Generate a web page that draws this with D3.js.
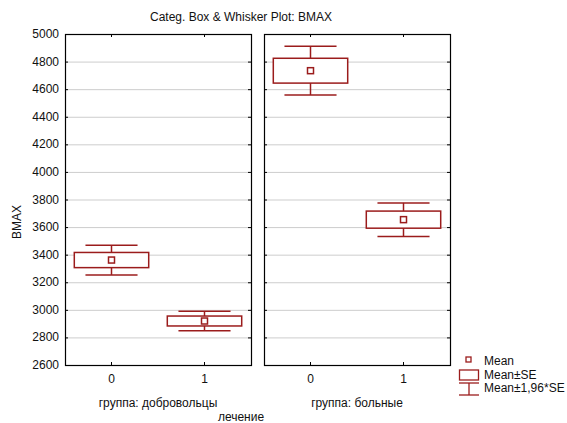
<!DOCTYPE html>
<html>
<head>
<meta charset="utf-8">
<script src="https://cdn.jsdelivr.net/npm/d3@7"></script>
<style>
  body { margin: 0; background: #fff; }
  text { font-family: "Liberation Sans", Arial, sans-serif; fill: #111; font-size: 12px; }
</style>
</head>
<body>
<div id="vis"></div>
<script>
// data
const groups = ['группа: добровольцы', 'группа: больные']
const categories = ['0', '1']
const means = [[3361, 2919], [4734, 3654]]
const se = [[55, 36], [90, 62]]
const ciFactor = 1.96
const yTicks = [2600, 2800, 3000, 3200, 3400, 3600, 3800, 4000, 4200, 4400, 4600, 4800, 5000]
const legendLabels = ['Mean', 'Mean±SE', 'Mean±1,96*SE']

;(function() {
  const svg_width = 567,
        svg_height = 423,
        red = '#9b1c1c',
        svg = d3.select('#vis').append('svg')

  svg.attr('width', svg_width).attr('height', svg_height)

  const top = 34, bottom = 365, panelW = 186
  const panelX = [65, 264]

  const y = d3.scaleLinear().domain([2600, 5000]).range([bottom, top])

  svg.append('text')
    .attr('x', 241).attr('y', 21)
    .attr('text-anchor', 'middle')
    .text('Categ. Box & Whisker Plot: BMAX')

  // y axis labels
  svg.append('g')
    .selectAll('text')
    .data(yTicks)
    .join('text')
    .attr('x', 59)
    .attr('y', d => y(d) + 4)
    .attr('text-anchor', 'end')
    .text(d => d)

  svg.append('text')
    .attr('transform', 'translate(21,222) rotate(-90)')
    .attr('text-anchor', 'middle')
    .text('BMAX')

  groups.forEach((g, gi) => {
    const x0 = panelX[gi]
    const x = d3.scaleBand().domain(categories).range([x0, x0 + panelW]).padding(0)
    const cx = c => x(c) + x.bandwidth() / 2
    const panel = svg.append('g').attr('class', 'panel' + gi)

    // grid
    panel.selectAll('line.grid')
      .data(yTicks.slice(1, -1))
      .join('line')
      .attr('class', 'grid')
      .attr('x1', x0).attr('x2', x0 + panelW)
      .attr('y1', d => y(d) + 0.5).attr('y2', d => y(d) + 0.5)
      .attr('stroke', '#cdcdcd')
      .attr('stroke-width', 1)

    // inner ticks on both sides
    panel.selectAll('line.lt')
      .data(yTicks)
      .join('line')
      .attr('x1', x0).attr('x2', x0 + 3)
      .attr('y1', d => y(d) + 0.5).attr('y2', d => y(d) + 0.5)
      .attr('stroke', '#000')
    panel.selectAll('line.rt')
      .data(yTicks)
      .join('line')
      .attr('x1', x0 + panelW - 3).attr('x2', x0 + panelW)
      .attr('y1', d => y(d) + 0.5).attr('y2', d => y(d) + 0.5)
      .attr('stroke', '#000')

    // category ticks, top and bottom
    categories.forEach(c => {
      panel.append('line')
        .attr('x1', cx(c)).attr('x2', cx(c))
        .attr('y1', top).attr('y2', top + 3)
        .attr('stroke', '#000')
      panel.append('line')
        .attr('x1', cx(c)).attr('x2', cx(c))
        .attr('y1', bottom).attr('y2', bottom - 3)
        .attr('stroke', '#000')
      panel.append('text')
        .attr('x', cx(c)).attr('y', 383)
        .attr('text-anchor', 'middle')
        .text(c)
    })

    panel.append('rect')
      .attr('x', x0 + 0.5).attr('y', top + 0.5)
      .attr('width', panelW).attr('height', bottom - top)
      .attr('fill', 'none')
      .attr('stroke', '#000')
      .attr('stroke-width', 1.2)

    panel.append('text')
      .attr('x', x0 + panelW / 2).attr('y', 407)
      .attr('text-anchor', 'middle')
      .text(g)

    // boxes
    const boxW = x.bandwidth() * 0.8, capW = x.bandwidth() * 0.56
    categories.forEach((c, ci) => {
      const m = means[gi][ci], s = se[gi][ci]
      const hi = m + ciFactor * s, lo = m - ciFactor * s
      const b = panel.append('g').attr('class', 'box')
      b.append('line')
        .attr('x1', cx(c)).attr('x2', cx(c))
        .attr('y1', y(hi)).attr('y2', y(lo))
        .attr('stroke', red).attr('stroke-width', 1.5)
      ;[hi, lo].forEach(v => {
        b.append('line')
          .attr('x1', cx(c) - capW / 2).attr('x2', cx(c) + capW / 2)
          .attr('y1', y(v)).attr('y2', y(v))
          .attr('stroke', red).attr('stroke-width', 1.5)
      })
      b.append('rect')
        .attr('x', cx(c) - boxW / 2).attr('y', y(m + s))
        .attr('width', boxW).attr('height', y(m - s) - y(m + s))
        .attr('fill', '#fff')
        .attr('stroke', red).attr('stroke-width', 1.5)
      b.append('rect')
        .attr('x', cx(c) - 3).attr('y', y(m) - 3)
        .attr('width', 6).attr('height', 6)
        .attr('fill', '#fff')
        .attr('stroke', red).attr('stroke-width', 1.5)
    })
  })

  svg.append('text')
    .attr('x', 241).attr('y', 421)
    .attr('text-anchor', 'middle')
    .text('лечение')

  // legend
  const leg = svg.append('g').attr('class', 'legend')
  leg.append('rect')
    .attr('x', 466).attr('y', 357).attr('width', 5).attr('height', 5)
    .attr('fill', '#fff').attr('stroke', red).attr('stroke-width', 1.3)
  leg.append('rect')
    .attr('x', 459.5).attr('y', 370).attr('width', 19).attr('height', 10)
    .attr('fill', '#fff').attr('stroke', red).attr('stroke-width', 1.3)
  leg.append('line')
    .attr('x1', 459).attr('x2', 479).attr('y1', 383).attr('y2', 383)
    .attr('stroke', red).attr('stroke-width', 1.3)
  leg.append('line')
    .attr('x1', 459).attr('x2', 479).attr('y1', 395).attr('y2', 395)
    .attr('stroke', red).attr('stroke-width', 1.3)
  leg.append('line')
    .attr('x1', 469).attr('x2', 469).attr('y1', 383).attr('y2', 395)
    .attr('stroke', red).attr('stroke-width', 1.3)
  leg.selectAll('text.lbl')
    .data(legendLabels)
    .join('text')
    .attr('x', 484)
    .attr('y', (d, i) => 365 + i * 13.5)
    .text(d => d)
}())
</script>
</body>
</html>
